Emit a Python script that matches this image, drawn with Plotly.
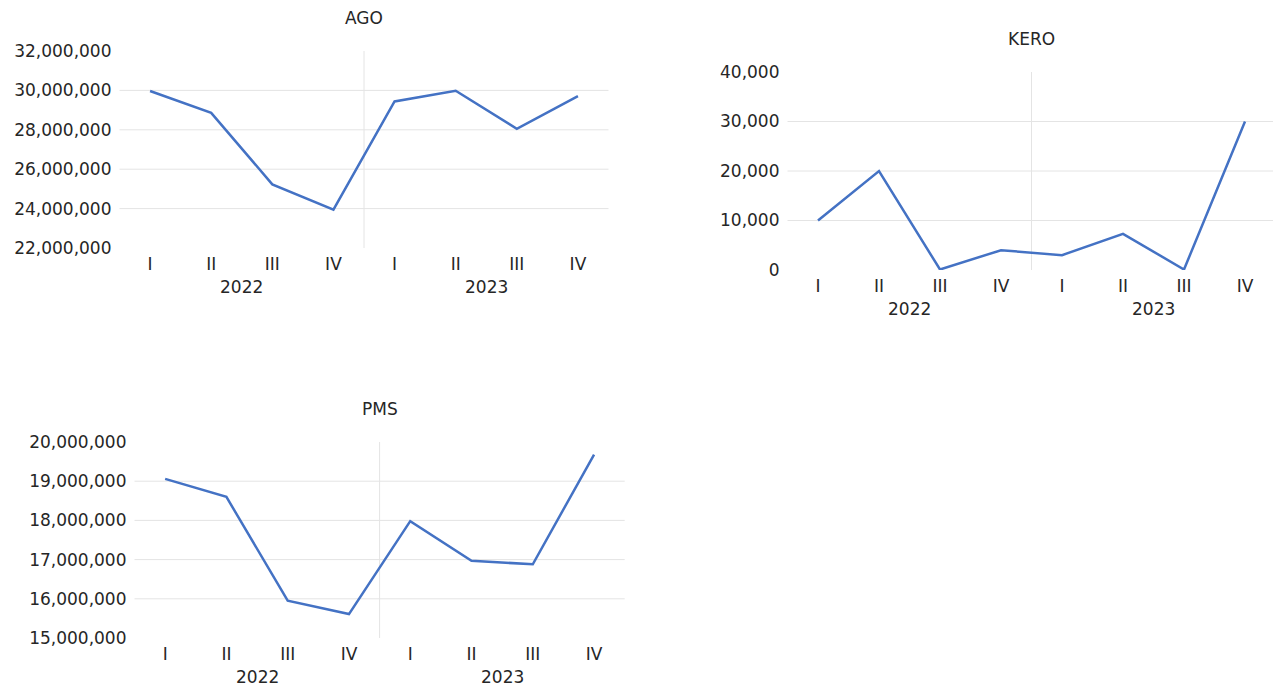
import plotly.graph_objects as go

# Quarterly volumes by product
quarters = ["I", "II", "III", "IV", "I", "II", "III", "IV"]
years = ["2022", "2023"]
ago = [29970000, 28860000, 25230000, 23950000, 29440000, 29980000, 28050000, 29710000]
kero = [10000, 20000, 100, 4000, 3000, 7300, 100, 30000]
pms = [19060000, 18600000, 15950000, 15610000, 17980000, 16970000, 16880000, 19680000]

W, H = 1273, 686
FONT = "DejaVu Sans"
FS = 17
TXT = "#262626"
GRID = "#E4E4E4"
LINE = "#4472C4"

# panel layout in pixels: left, right, top, bottom of plot area
panels = [
    dict(title="AGO", values=ago, ymin=22000000, ymax=32000000, step=2000000,
         box=(119.5, 608.5, 51, 248)),
    dict(title="KERO", values=kero, ymin=0, ymax=40000, step=10000,
         box=(787.5, 1275.5, 72, 270)),
    dict(title="PMS", values=pms, ymin=15000000, ymax=20000000, step=1000000,
         box=(134.5, 624.7, 442, 638)),
]

fig = go.Figure()
xs = list(range(len(quarters)))
annotations = []
shapes = []

for i, p in enumerate(panels, start=1):
    sfx = "" if i == 1 else str(i)
    left, right, top, bottom = p["box"]
    unit = (right - left) / 8.0
    # clip the panel at the page edge, extending the range instead
    right_c = min(right, W)
    xmax = -0.5 + (right_c - left) / unit
    xdom = [left / W, right_c / W]
    ydom = [1 - bottom / H, 1 - top / H]

    fig.add_trace(go.Scatter(
        x=xs, y=p["values"], mode="lines",
        line=dict(color=LINE, width=2.5),
        xaxis="x" + sfx, yaxis="y" + sfx,
        showlegend=False, hoverinfo="skip",
    ))

    tickvals = list(range(p["ymin"], p["ymax"] + 1, p["step"]))
    fig.update_layout(**{
        "xaxis" + sfx: dict(
            domain=xdom, range=[-0.5, xmax], anchor="y" + sfx,
            tickmode="array", tickvals=xs, ticktext=quarters,
            showgrid=False, zeroline=False, showline=False, ticks="",
            ticklabelstandoff=4, automargin=False,
            tickfont=dict(family=FONT, size=FS, color=TXT),
        ),
        "yaxis" + sfx: dict(
            domain=ydom, range=[p["ymin"], p["ymax"]], anchor="x" + sfx,
            tickmode="array", tickvals=tickvals, tickformat=",",
            showgrid=False, zeroline=False, showline=False, ticks="",
            ticklabelstandoff=7, automargin=False,
            tickfont=dict(family=FONT, size=FS, color=TXT),
        ),
    })

    # horizontal gridlines at interior ticks only
    for v in tickvals[1:-1]:
        shapes.append(dict(type="line", xref=f"x{sfx} domain", yref="y" + sfx,
                           x0=0, x1=1, y0=v, y1=v, layer="below",
                           line=dict(color=GRID, width=1)))
    # divider between the two years
    shapes.append(dict(type="line", xref="x" + sfx, yref=f"y{sfx} domain",
                       x0=3.5, x1=3.5, y0=0, y1=1, layer="below",
                       line=dict(color=GRID, width=1)))

    # panel title
    annotations.append(dict(
        text=p["title"], xref="paper", yref="paper",
        x=((left + right) / 2) / W, y=1 - (top - 33) / H,
        xanchor="center", yanchor="middle", showarrow=False,
        font=dict(family=FONT, size=FS, color=TXT),
    ))
    # year group labels
    for k, yr in enumerate(years):
        annotations.append(dict(
            text=yr, xref="x" + sfx, yref="paper",
            x=1.5 + 4 * k, y=1 - (bottom + 39) / H,
            xanchor="center", yanchor="middle", showarrow=False,
            font=dict(family=FONT, size=FS, color=TXT),
        ))

fig.update_layout(
    width=W, height=H,
    margin=dict(l=0, r=0, t=0, b=0, autoexpand=False),
    paper_bgcolor="white", plot_bgcolor="white",
    annotations=annotations, shapes=shapes,
)

fig.write_html("out.html")
